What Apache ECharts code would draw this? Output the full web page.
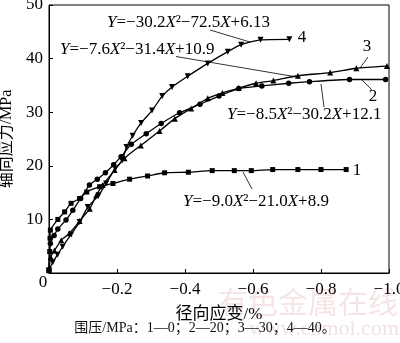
<!DOCTYPE html>
<html>
<head>
<meta charset="utf-8">
<script src="https://cdn.jsdelivr.net/npm/echarts@6/dist/echarts.min.js"></script>
<style>
  html, body { margin: 0; padding: 0; background: #fff; }
  #chart { width: 400px; height: 343px; }
</style>
</head>
<body>
<div id="chart"></div>
<script>
// Radial strain (%) and axial stress (MPa) for each confining pressure
const strain1 = [0, -0.002, -0.003, -0.004, -0.026, -0.046, -0.065, -0.09, -0.111, -0.149, -0.188, -0.237, -0.29, -0.34, -0.41, -0.48, -0.545, -0.595, -0.658, -0.732, -0.80, -0.874];
const stress1 = [0.5, 4, 6.5, 8, 10, 11.4, 13, 13.9, 15.1, 16.1, 16.7, 17.5, 18.1, 18.7, 18.8, 19.1, 19.1, 19.1, 19.3, 19.3, 19.3, 19.3];

const strain2 = [0, -0.004, -0.015, -0.026, -0.05, -0.07, -0.093, -0.119, -0.142, -0.166, -0.19, -0.212, -0.242, -0.286, -0.33, -0.384, -0.444, -0.5, -0.558, -0.626, -0.705, -0.766, -0.884, -0.99];
const stress2 = [0.5, 5.5, 7, 8.2, 9.9, 11.7, 13.9, 16.4, 17.5, 18.7, 20.2, 21.7, 24, 26, 27.9, 29.9, 31.5, 33, 34.4, 34.9, 35.4, 35.7, 36.1, 36.1];

const strain3 = [0, -0.005, -0.016, -0.036, -0.06, -0.09, -0.12, -0.139, -0.158, -0.193, -0.222, -0.27, -0.325, -0.37, -0.418, -0.467, -0.51, -0.558, -0.609, -0.66, -0.732, -0.827, -0.904, -0.994];
const stress3 = [0.5, 3, 4.2, 6.1, 7.4, 9.7, 12, 14.5, 16.4, 19.2, 21.4, 23.8, 26.5, 28.8, 30.7, 32.6, 33.6, 34.5, 35.4, 35.9, 36.8, 37.4, 38.2, 38.6];

const strain4 = [0, -0.011, -0.025, -0.04, -0.065, -0.09, -0.114, -0.146, -0.168, -0.195, -0.215, -0.228, -0.246, -0.271, -0.303, -0.333, -0.362, -0.408, -0.467, -0.526, -0.565, -0.622, -0.707];
const stress4 = [0.5, 2, 3.4, 4.9, 7.2, 9.5, 12.3, 14.5, 16.7, 19.5, 21, 23.5, 25.6, 28, 30.3, 33, 34.7, 36.7, 39.1, 41.3, 42.6, 43.5, 43.6];

const yTicks = [0, 10, 20, 30, 40, 50];
const xTicks = [0, -0.2, -0.4, -0.6, -0.8, -1.0];

// fitted quadratic for each curve, X and Y set in italics
const fitLabels = {
  c1: '{i|Y}=−9.0{i|X}²−21.0{i|X}+8.9',
  c2: '{i|Y}=−8.5{i|X}²−30.2{i|X}+12.1',
  c3: '{i|Y}=−7.6{i|X}²−31.4{i|X}+10.9',
  c4: '{i|Y}=−30.2{i|X}²−72.5{i|X}+6.13'
};
const caption = '围压/MPa：1—0；2—20；3—30；4—40。';

const serif = '"Liberation Serif", "Times New Roman", "Noto Sans CJK SC", serif';
const cjk = '"Liberation Serif", "Noto Sans CJK SC", serif';

function pairs(xs, ys) { return xs.map((x, i) => [x, ys[i]]); }

function curve(name, xs, ys, symbol, size, rotate) {
  return {
    name, type: 'line', data: pairs(xs, ys),
    symbol, symbolSize: size, symbolRotate: rotate || 0,
    showAllSymbol: true, smooth: 0.2,
    lineStyle: { color: '#000', width: 1.3 },
    itemStyle: { color: '#000' },
    z: 3
  };
}

const rich = {
  i: { fontStyle: 'italic', fontFamily: serif, fontSize: 17, fill: '#000' }
};

function eq(text, x, y) {
  return {
    type: 'text', x, y, z: 10,
    style: { text, rich, fill: '#000', font: '17px ' + serif, align: 'left', verticalAlign: 'middle' }
  };
}
function tag(text, x, y) {
  return {
    type: 'text', x, y, z: 10,
    style: { text, fill: '#000', font: '17px ' + serif, align: 'center', verticalAlign: 'middle' }
  };
}
function leader(x1, y1, x2, y2) {
  return { type: 'line', z: 10, shape: { x1, y1, x2, y2 }, style: { stroke: '#000', lineWidth: 0.8 } };
}

const chart = echarts.init(document.getElementById('chart'), null, { renderer: 'canvas' });
chart.setOption({
  animation: false,
  backgroundColor: '#fff',
  grid: {
    left: 49, right: 11, top: 5, bottom: 70,
    containLabel: false, outerBoundsMode: 'none',
    show: true, borderColor: '#000', borderWidth: 1
  },
  xAxis: {
    type: 'value', min: -1, max: 0, interval: 0.2, inverse: true,
    name: '径向应变/%', nameLocation: 'middle', nameGap: 33,
    nameTextStyle: { fontFamily: cjk, fontSize: 17, color: '#000' },
    axisLine: { lineStyle: { color: '#000', width: 1 } },
    axisTick: { inside: true, length: 4, lineStyle: { color: '#000' } },
    splitLine: { show: false },
    axisLabel: {
      margin: 8, color: '#000', fontFamily: serif, fontSize: 17,
      formatter: v => (Math.abs(v) < 1e-9 ? '' : '−' + Math.abs(v).toFixed(1))
    }
  },
  yAxis: {
    type: 'value', min: 0, max: 50, interval: 10,
    name: '轴向应力/MPa', nameLocation: 'middle', nameGap: 30, nameRotate: 90,
    nameTextStyle: { fontFamily: cjk, fontSize: 16, color: '#000' },
    axisLine: { show: true, lineStyle: { color: '#000', width: 1 } },
    axisTick: { show: true, inside: true, length: 4, lineStyle: { color: '#000' } },
    splitLine: { show: false },
    axisLabel: {
      margin: 6, color: '#000', fontFamily: serif, fontSize: 17,
      formatter: v => (v === 0 ? '' : String(v))
    }
  },
  series: [
    curve('1', strain1, stress1, 'rect', 5),
    curve('2', strain2, stress2, 'circle', 5.5),
    curve('3', strain3, stress3, 'triangle', 6),
    curve('4', strain4, stress4, 'triangle', 6, 180)
  ],
  graphic: [
    // site watermark behind the caption
    { type: 'text', x: 218, y: 302, z: 0, style: { text: '有色金属在线', fill: 'rgba(215,120,120,0.2)', font: '30px "Noto Sans CJK SC", sans-serif', align: 'left', verticalAlign: 'middle' } },
    { type: 'text', x: 399, y: 329, z: 0, style: { text: 'www.cnmol.com', fill: 'rgba(200,140,140,0.25)', font: '22px ' + serif, align: 'right', verticalAlign: 'middle' } },
    // shared origin label
    { type: 'text', x: 43, y: 283, z: 10, style: { text: '0', fill: '#000', font: '17px ' + serif, align: 'center', verticalAlign: 'middle' } },
    // fitted equations and their leaders
    eq(fitLabels.c4, 107, 23), leader(210, 30, 250, 42),
    eq(fitLabels.c3, 60, 50), leader(176, 56.5, 297, 77),
    eq(fitLabels.c2, 227, 115), leader(324, 107, 321, 84),
    eq(fitLabels.c1, 183, 202), leader(243, 172, 252, 189),
    // curve numbers
    tag('4', 302, 38),
    tag('3', 367, 47), leader(368, 57, 360, 68),
    tag('2', 373, 97), leader(362, 80, 372, 90),
    tag('1', 357, 171),
    // confining pressure note
    { type: 'text', x: 205, y: 328, z: 10, style: { text: caption, fill: '#111', font: '14px ' + cjk, align: 'center', verticalAlign: 'middle' } }
  ]
});
</script>
</body>
</html>
